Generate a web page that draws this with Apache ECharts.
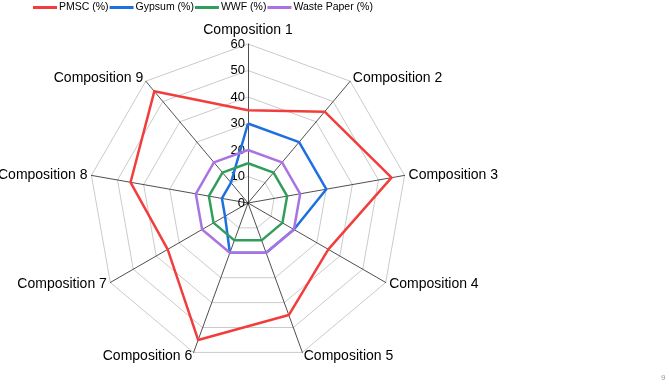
<!DOCTYPE html>
<html>
<head>
<meta charset="utf-8">
<script src="https://cdn.jsdelivr.net/npm/echarts@6/dist/echarts.min.js"></script>
<style>
  html, body { margin: 0; padding: 0; background: #fff; }
  #chart { width: 669px; height: 386px; }
</style>
</head>
<body>
<div id="chart"></div>
<script>
var compositions = ['Composition 1', 'Composition 2', 'Composition 3', 'Composition 4', 'Composition 5',
  'Composition 6', 'Composition 7', 'Composition 8', 'Composition 9'];
var pmsc = [35, 45, 55, 35, 45, 55, 35, 45, 55];
var gypsum = [30, 30, 30, 20, 20, 20, 10, 10, 10];
var wwf = [15, 15, 15, 15, 15, 15, 15, 15, 15];
var wastePaper = [20, 20, 20, 20, 20, 20, 20, 20, 20];
var seriesNames = ['PMSC (%)', 'Gypsum (%)', 'WWF (%)', 'Waste Paper (%)'];
var colors = ['#f23d3d', '#1f6fe0', '#2f9e5c', '#a974e2'];

var chart = echarts.init(document.getElementById('chart'));

// radar goes counterclockwise, so keep the first one on top and reverse the rest
var order = [0];
for (var k = compositions.length - 1; k > 0; k--) order.push(k);

var indicators = order.map(function (i) {
  var ind = { name: compositions[i], max: 60, min: 0 };
  if (i == 0) {
    ind.axisLabel = { show: true, color: '#000', fontSize: 13, margin: 3 }; // only first axis gets ticks
  }
  return ind;
});

var allData = [pmsc, gypsum, wwf, wastePaper];

var option = {
  animation: false,
  color: colors,
  textStyle: { fontFamily: 'Liberation Sans' },
  legend: {
    left: 33,
    top: 2,
    padding: 0,
    icon: 'rect',
    itemWidth: 24,
    itemHeight: 3,
    itemGap: 1,
    textStyle: { fontSize: 10.5, color: '#000', fontFamily: 'Liberation Sans', padding: [0, 0, 0, -3] },
    data: seriesNames
  },
  radar: {
    center: [248, 203],
    radius: 159,
    startAngle: 90,
    splitNumber: 6,
    shape: 'polygon',
    indicator: indicators,
    axisName: { color: '#000', fontSize: 14, fontFamily: 'Liberation Sans' },
    nameGap: 4,
    axisLine: { lineStyle: { color: '#222', width: 0.8 } },
    splitLine: { lineStyle: { color: '#bdbdbd', width: 0.8 } },
    splitArea: { show: false },
    axisLabel: { show: false }
  },
  series: [{
    type: 'radar',
    symbol: 'none',
    lineStyle: { width: 2.5 },
    data: allData.map(function (d, i) {
      return {
        name: seriesNames[i],
        value: order.map(function (j) { return d[j]; }),
        lineStyle: { color: colors[i], width: 2.5 },
        itemStyle: { color: colors[i] }
      };
    })
  }],
  graphic: [{
    type: 'text',
    left: 661,
    top: 374,
    style: { text: '9', fontSize: 8, fill: '#999', fontFamily: 'Liberation Sans' }
  }]
};

chart.setOption(option);
</script>
</body>
</html>
